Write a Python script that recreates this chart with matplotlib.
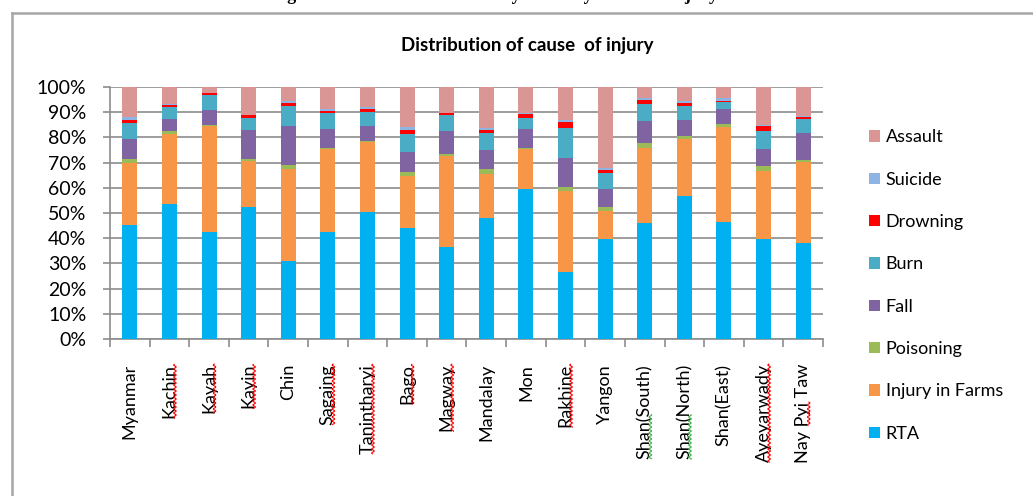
import numpy as np
import matplotlib
matplotlib.use("Agg")
import matplotlib.pyplot as plt
from matplotlib.lines import Line2D
from matplotlib.patches import Patch

regions = ["Myanmar", "Kachin", "Kayah", "Kayin", "Chin", "Sagaing", "Tanintharyi",
           "Bago", "Magway", "Mandalay", "Mon", "Rakhine", "Yangon", "Shan(South)",
           "Shan(North)", "Shan(East)", "Ayeyarwady", "Nay Pyi Taw"]

# percentages (each column sums to ~100)
rta       = [45.3, 53.6, 42.6, 52.2, 31.0, 42.6, 50.3, 44.0, 36.6, 47.9, 59.7, 26.7, 39.7, 46.1, 56.8, 46.6, 39.7, 37.9]
farms     = [24.7, 27.6, 41.9, 18.6, 36.4, 32.7, 27.9, 20.7, 36.0, 17.5, 15.6, 32.1, 11.2, 29.8, 22.4, 37.6, 27.0, 32.5]
poisoning = [1.6, 1.3, 0.5, 0.8, 1.7, 0.6, 0.4, 1.4, 0.7, 2.0, 0.4, 1.6, 1.3, 1.7, 1.3, 1.3, 2.0, 0.5]
fall      = [7.6, 4.9, 5.7, 11.3, 15.4, 7.3, 6.1, 8.1, 9.2, 7.6, 7.5, 11.6, 7.3, 8.8, 6.6, 5.8, 6.8, 10.9]
burn      = [6.6, 4.7, 6.3, 4.9, 8.1, 6.5, 5.3, 7.0, 6.2, 6.8, 4.6, 11.8, 6.3, 7.0, 5.5, 2.9, 7.0, 5.6]
drowning  = [1.3, 0.8, 0.7, 0.9, 1.1, 0.7, 1.3, 1.6, 0.8, 1.0, 1.3, 2.2, 1.3, 1.3, 1.1, 0.2, 2.0, 0.8]
suicide   = [1.1, 0.3, 0.1, 0.2, 0.6, 0.9, 0.8, 1.3, 0.2, 1.0, 0.6, 0.8, 0.9, 1.1, 0.6, 1.1, 0.3, 0.2]
assault   = [11.8, 6.8, 2.2, 11.1, 5.7, 8.7, 7.9, 15.9, 10.3, 16.2, 10.3, 13.2, 32.0, 4.2, 5.7, 4.5, 15.2, 11.6]

series = [("RTA", rta, "#00B0F0"),
          ("Injury in Farms", farms, "#F79646"),
          ("Poisoning", poisoning, "#9BBB59"),
          ("Fall", fall, "#8064A2"),
          ("Burn", burn, "#4BACC6"),
          ("Drowning", drowning, "#FF0000"),
          ("Suicide", suicide, "#8EB4E3"),
          ("Assault", assault, "#D99694")]

# spell-check squiggles seen under some labels: (label index, colour, start, end as fraction of text)
squiggles = [(1, "red", 0, 1), (2, "red", 0, 1), (3, "red", 0, 1), (5, "red", 0, 1),
             (6, "red", 0, 1), (7, "red", 0, 1), (8, "red", 0, 1), (11, "red", 0, 1),
             (13, "#3CB043", 0, 0.47), (14, "#3CB043", 0, 0.47), (16, "red", 0, 1),
             (17, "red", 0.38, 0.62)]

plt.rcParams['font.family'] = ['Lato', 'DejaVu Sans']

fig = plt.figure(figsize=(10.33, 4.96), dpi=100)
W, H = 1033.0, 496.0

# chart frame (top and left edge of the embedded chart)
fig.add_artist(Line2D([12/W, 1.0], [1-13/H, 1-13/H], color="#A6A6A6", lw=1.8))
fig.add_artist(Line2D([12/W, 12/W], [1-13/H, 0.0], color="#A6A6A6", lw=1.8))

# cut off document caption above the chart
fig.text(271/W, 1-0.5/H, "Figure 3.5: Number of Mortality Cases by Cause of Injury",
         family="Liberation Serif", weight="bold", fontsize=13, va="baseline", ha="left")

ax = fig.add_axes([110/W, 1-339/H, 713/W, 252/H])

x = np.arange(len(regions))
tot = np.array([sum(s[1][i] for s in series) for i in range(len(regions))])
total = np.zeros(len(regions))
for name, vals, col in series:
    v = np.array(vals) / tot * 100
    ax.bar(x, v, 0.38, bottom=total, color=col, label=name, zorder=3, linewidth=0)
    total += v

ax.set_xlim(-0.5, len(regions) - 0.5)
ax.set_ylim(0, 100)
ax.set_yticks(np.arange(0, 101, 10))
ax.set_yticklabels(["%d%%" % t for t in range(0, 101, 10)], fontsize=14)
ax.yaxis.grid(True, color="#8C8C8C", lw=1.2, zorder=0)
ax.set_axisbelow(True)

ax.set_xticks(x)
ax.set_xticklabels(regions, rotation=90, fontsize=13)
ax.set_xticks(np.arange(-0.5, len(regions)), minor=True)
ax.tick_params(axis="x", which="major", length=0, pad=18)
ax.tick_params(axis="x", which="minor", length=6, width=1.2, color="#8C8C8C", direction="out")
ax.tick_params(axis="y", length=5, width=1.2, color="#8C8C8C", pad=12)

for s in ["top", "right"]:
    ax.spines[s].set_visible(False)
for s in ["left", "bottom"]:
    ax.spines[s].set_color("#8C8C8C")
    ax.spines[s].set_linewidth(1.2)

fig.text(527/W, 1-45/H, "Distribution of cause  of injury", ha="center", va="center",
         fontsize=13.5, weight="bold")

handles = [Patch(facecolor=c, edgecolor="none") for _, _, c in series][::-1]
labels = [n for n, _, _ in series][::-1]
fig.legend(handles, labels, loc="upper left", bbox_to_anchor=(853/W, 1-113/H),
           frameon=False, fontsize=13, handlelength=0.6, handleheight=0.6,
           handletextpad=0.3, labelspacing=1.46)

# wavy underlines beside the rotated labels
fig.canvas.draw()
r = fig.canvas.get_renderer()
ticklabels = ax.get_xticklabels()
for idx, col, f0, f1 in squiggles:
    bb = ticklabels[idx].get_window_extent(r)
    y0 = bb.y0 + f0 * bb.height
    y1 = bb.y0 + f1 * bb.height
    yy = np.arange(y0, y1, 0.5)
    xx = bb.x1 - 2.5 + 1.3 * np.sin(yy * 2 * np.pi / 4.0)
    fig.add_artist(Line2D(xx / W, yy / H, color=col, lw=0.8))

fig.savefig("out.png", dpi=100)
